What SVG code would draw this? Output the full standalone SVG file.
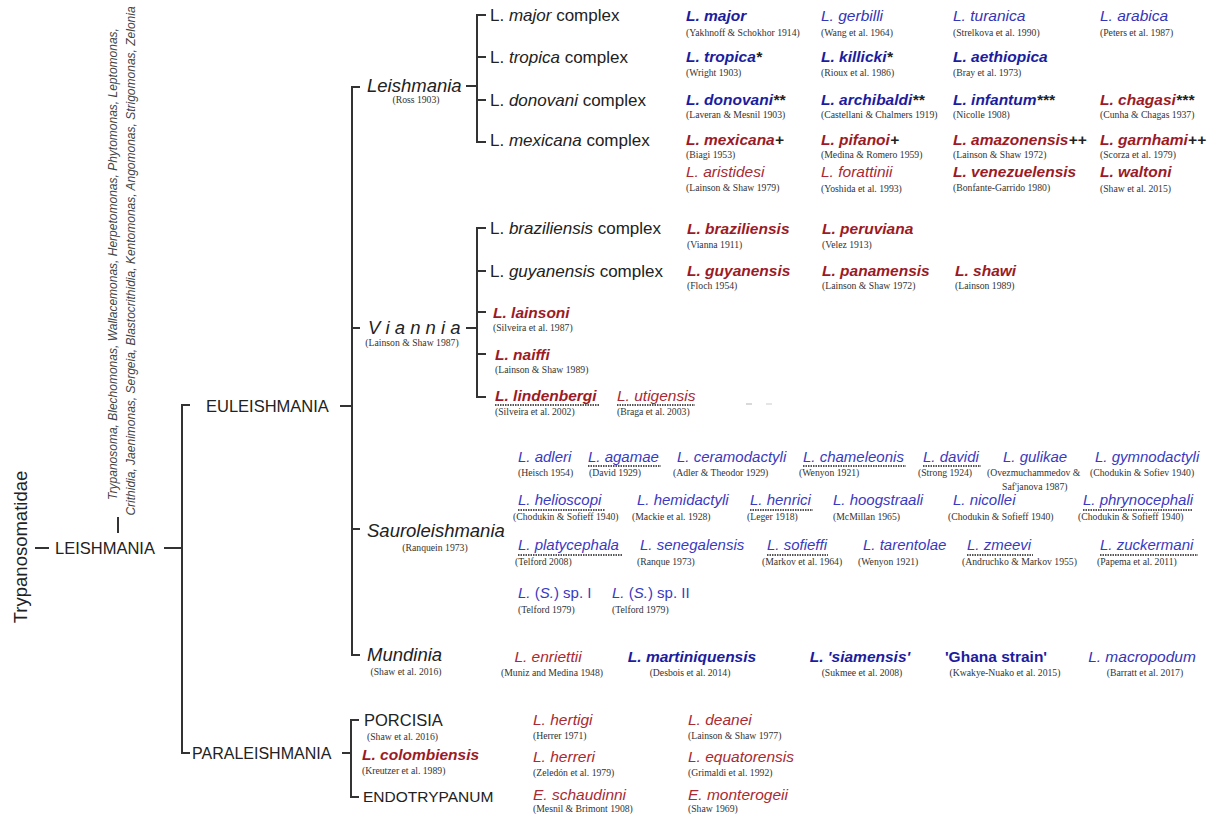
<svg xmlns="http://www.w3.org/2000/svg" width="1220" height="814" viewBox="0 0 1220 814">
<style>
text{font-family:"Liberation Sans",Arial,sans-serif}
.ln{stroke:#333;stroke-width:2;fill:none}
.ul{stroke:#555;stroke-width:2;stroke-dasharray:1.5 1;fill:none}
.cap{font-size:16.5px;fill:#222}
.sg{font-size:18.5px;font-style:italic;fill:#222}
.cx{font-size:17px;fill:#222}
.it{font-style:italic}
.gen{font-size:12px;font-style:italic;fill:#444}
.cit{font-family:"Liberation Serif","Times New Roman",serif;font-size:9.7px;fill:#333}
.bb{font-size:15.5px;font-style:italic;font-weight:bold;fill:#1c1c9e}
.nb{font-size:15.5px;font-style:italic;fill:#3535b8}
.br{font-size:15.5px;font-style:italic;font-weight:bold;fill:#9c1a26}
.nr{font-size:15.5px;font-style:italic;fill:#a82a34}
.sb{font-size:15px;font-style:italic;fill:#3a3ac0}
.mk{fill:#222}
.up{font-style:normal}
</style>
<rect width="1220" height="814" fill="#fff"/>

<g id="connectors">
  <line class="ln" x1="35" y1="548" x2="49" y2="548"/>
  <line class="ln" x1="118" y1="517" x2="118" y2="533"/>
  <line class="ln" x1="164" y1="548" x2="182" y2="548"/>
  <polyline class="ln" points="190,405 182,405 182,753 190,753"/>
  <line class="ln" x1="340" y1="406" x2="352" y2="406"/>
  <polyline class="ln" points="360,87 352,87 352,655 360,655"/>
  <line class="ln" x1="352" y1="328" x2="360" y2="328"/>
  <line class="ln" x1="352" y1="529" x2="360" y2="529"/>
  <line class="ln" x1="466" y1="86" x2="477" y2="86"/>
  <polyline class="ln" points="486,15 477,15 477,142 486,142"/>
  <line class="ln" x1="477" y1="57" x2="486" y2="57"/>
  <line class="ln" x1="477" y1="100" x2="486" y2="100"/>
  <line class="ln" x1="466" y1="328" x2="477" y2="328"/>
  <polyline class="ln" points="486,228 477,228 477,397 486,397"/>
  <line class="ln" x1="477" y1="271" x2="486" y2="271"/>
  <line class="ln" x1="477" y1="312" x2="486" y2="312"/>
  <line class="ln" x1="477" y1="354" x2="486" y2="354"/>
  <line class="ln" x1="342" y1="753" x2="351" y2="753"/>
  <polyline class="ln" points="359,720 351,720 351,797 359,797"/>
  <line x1="746" y1="404" x2="752" y2="404" stroke="#ccc" stroke-width="1.5"/>
  <line x1="766" y1="404" x2="772" y2="404" stroke="#ddd" stroke-width="1.5"/>
</g>

<g id="n-trypanosomatidae"><text transform="translate(27,547) rotate(-90)" text-anchor="middle" font-size="18.5" fill="#222">Trypanosomatidae</text></g>
<g id="n-other-genera">
  <text class="gen" transform="translate(117,264) rotate(-90)" text-anchor="middle">Trypanosoma, Blechomonas, Wallacemonas, Herpetomonas, Phytomonas, Leptomonas,</text>
  <text class="gen" transform="translate(135,261) rotate(-90)" text-anchor="middle">Crithidia, Jaenimonas, Sergeia, Blastocrithidia, Kentomonas, Angomonas, Strigomonas, Zelonia</text>
</g>
<g id="n-leishmania-genus"><text class="cap" x="55" y="554" font-size="17">LEISHMANIA</text></g>
<g id="n-euleishmania"><text class="cap" x="206" y="412">EULEISHMANIA</text></g>
<g id="n-paraleishmania"><text class="cap" x="192" y="759" style="font-size:16px">PARALEISHMANIA</text></g>

<g id="n-subg-leishmania"><text class="sg" x="367" y="92">Leishmania</text><text class="cit" x="416" y="103" text-anchor="middle">(Ross 1903)</text></g>
<g id="n-viannia"><text class="sg" x="368" y="334">V i a n n i a</text><text class="cit" x="412" y="346" text-anchor="middle">(Lainson &amp; Shaw 1987)</text></g>
<g id="n-sauroleishmania"><text class="sg" x="367" y="537">Sauroleishmania</text><text class="cit" x="435" y="551" text-anchor="middle">(Ranquein 1973)</text></g>
<g id="n-mundinia"><text class="sg" x="367" y="661">Mundinia</text><text class="cit" x="406" y="675" text-anchor="middle">(Shaw et al. 2016)</text></g>

<g id="n-porcisia"><text class="cap" x="364" y="726">PORCISIA</text><text class="cit" x="367" y="740">(Shaw et al. 2016)</text></g>
<g id="n-colombiensis"><text class="br" x="362" y="760">L. colombiensis</text><text class="cit" x="362" y="774">(Kreutzer et al. 1989)</text></g>
<g id="n-endotrypanum"><text class="cap" x="363" y="802" style="font-size:15.5px">ENDOTRYPANUM</text></g>

<!-- complexes -->
<g id="cx-major"><text class="cx" x="490" y="21">L. <tspan class="it">major</tspan> complex</text></g>
<g id="cx-tropica"><text class="cx" x="490" y="63">L. <tspan class="it">tropica</tspan> complex</text></g>
<g id="cx-donovani"><text class="cx" x="490" y="106">L. <tspan class="it">donovani</tspan> complex</text></g>
<g id="cx-mexicana"><text class="cx" x="490" y="146">L. <tspan class="it">mexicana</tspan> complex</text></g>
<g id="cx-braziliensis"><text class="cx" x="490" y="234">L. <tspan class="it">braziliensis</tspan> complex</text></g>
<g id="cx-guyanensis"><text class="cx" x="490" y="277">L. <tspan class="it">guyanensis</tspan> complex</text></g>

<!-- Leishmania subgenus species -->
<g id="s-major"><text class="bb" x="686" y="21">L. major</text><text class="cit" x="686" y="36">(Yakhnoff &amp; Schokhor 1914)</text></g>
<g id="s-gerbilli"><text class="nb" x="821" y="21">L. gerbilli</text><text class="cit" x="821" y="36">(Wang et al. 1964)</text></g>
<g id="s-turanica"><text class="nb" x="953" y="21">L. turanica</text><text class="cit" x="953" y="36">(Strelkova et al. 1990)</text></g>
<g id="s-arabica"><text class="nb" x="1100" y="21">L. arabica</text><text class="cit" x="1100" y="36">(Peters et al. 1987)</text></g>

<g id="s-tropica"><text class="bb" x="686" y="62">L. tropica<tspan class="mk">*</tspan></text><text class="cit" x="686" y="76">(Wright 1903)</text></g>
<g id="s-killicki"><text class="bb" x="821" y="62">L. killicki<tspan class="mk">*</tspan></text><text class="cit" x="821" y="76">(Rioux et al. 1986)</text></g>
<g id="s-aethiopica"><text class="bb" x="953" y="62">L. aethiopica</text><text class="cit" x="953" y="76">(Bray et al. 1973)</text></g>

<g id="s-donovani"><text class="bb" x="686" y="105">L. donovani<tspan class="mk">**</tspan></text><text class="cit" x="686" y="118">(Laveran &amp; Mesnil 1903)</text></g>
<g id="s-archibaldi"><text class="bb" x="821" y="105">L. archibaldi<tspan class="mk">**</tspan></text><text class="cit" x="821" y="118">(Castellani &amp; Chalmers 1919)</text></g>
<g id="s-infantum"><text class="bb" x="953" y="105">L. infantum<tspan class="mk">***</tspan></text><text class="cit" x="953" y="118">(Nicolle 1908)</text></g>
<g id="s-chagasi"><text class="br" x="1100" y="105">L. chagasi<tspan class="mk">***</tspan></text><text class="cit" x="1100" y="118">(Cunha &amp; Chagas 1937)</text></g>

<g id="s-mexicana"><text class="br" x="686" y="145">L. mexicana<tspan class="mk">+</tspan></text><text class="cit" x="686" y="158">(Biagi 1953)</text></g>
<g id="s-pifanoi"><text class="br" x="821" y="145">L. pifanoi<tspan class="mk">+</tspan></text><text class="cit" x="821" y="158">(Medina &amp; Romero 1959)</text></g>
<g id="s-amazonensis"><text class="br" x="953" y="145">L. amazonensis<tspan class="mk">++</tspan></text><text class="cit" x="953" y="158">(Lainson &amp; Shaw 1972)</text></g>
<g id="s-garnhami"><text class="br" x="1100" y="145">L. garnhami<tspan class="mk">++</tspan></text><text class="cit" x="1100" y="158">(Scorza et al. 1979)</text></g>

<g id="s-aristidesi"><text class="nr" x="686" y="177">L. aristidesi</text><text class="cit" x="686" y="191">(Lainson &amp; Shaw 1979)</text></g>
<g id="s-forattinii"><text class="nr" x="821" y="177">L. forattinii</text><text class="cit" x="821" y="192">(Yoshida et al. 1993)</text></g>
<g id="s-venezuelensis"><text class="br" x="953" y="177">L. venezuelensis</text><text class="cit" x="953" y="191">(Bonfante-Garrido 1980)</text></g>
<g id="s-waltoni"><text class="br" x="1100" y="177">L. waltoni</text><text class="cit" x="1100" y="192">(Shaw et al. 2015)</text></g>

<!-- Viannia species -->
<g id="s-braziliensis"><text class="br" x="687" y="234">L. braziliensis</text><text class="cit" x="687" y="248">(Vianna 1911)</text></g>
<g id="s-peruviana"><text class="br" x="822" y="234">L. peruviana</text><text class="cit" x="822" y="248">(Velez 1913)</text></g>
<g id="s-guyanensis"><text class="br" x="687" y="276">L. guyanensis</text><text class="cit" x="687" y="289">(Floch 1954)</text></g>
<g id="s-panamensis"><text class="br" x="822" y="276">L. panamensis</text><text class="cit" x="822" y="289">(Lainson &amp; Shaw 1972)</text></g>
<g id="s-shawi"><text class="br" x="955" y="276">L. shawi</text><text class="cit" x="955" y="289">(Lainson 1989)</text></g>
<g id="s-lainsoni"><text class="br" x="493" y="318">L. lainsoni</text><text class="cit" x="493" y="331">(Silveira et al. 1987)</text></g>
<g id="s-naiffi"><text class="br" x="495" y="360">L. naiffi</text><text class="cit" x="495" y="373">(Lainson &amp; Shaw 1989)</text></g>
<g id="s-lindenbergi"><text class="br" x="495" y="401">L. lindenbergi</text><line class="ul" x1="495" y1="405" x2="600" y2="405"/><text class="cit" x="495" y="415">(Silveira et al. 2002)</text></g>
<g id="s-utigensis"><text class="nr" x="617" y="401">L. utigensis</text><line class="ul" x1="617" y1="405" x2="695" y2="405"/><text class="cit" x="617" y="415">(Braga et al. 2003)</text></g>

<!-- Sauroleishmania species -->
<g id="s-adleri"><text class="sb" x="518" y="462">L. adleri</text><text class="cit" x="518" y="476">(Heisch 1954)</text></g>
<g id="s-agamae"><text class="sb" x="588" y="462">L. agamae</text><line class="ul" x1="588" y1="466" x2="661" y2="466"/><text class="cit" x="589" y="476">(David 1929)</text></g>
<g id="s-ceramodactyli"><text class="sb" x="677" y="462">L. ceramodactyli</text><text class="cit" x="673" y="476">(Adler &amp; Theodor 1929)</text></g>
<g id="s-chameleonis"><text class="sb" x="803" y="462">L. chameleonis</text><line class="ul" x1="803" y1="466" x2="906" y2="466"/><text class="cit" x="799" y="476">(Wenyon 1921)</text></g>
<g id="s-davidi"><text class="sb" x="923" y="462">L. davidi</text><line class="ul" x1="923" y1="466" x2="981" y2="466"/><text class="cit" x="918" y="476">(Strong 1924)</text></g>
<g id="s-gulikae"><text class="sb" x="1003" y="462">L. gulikae</text><text class="cit" x="987" y="476">(Ovezmuchammedov &amp;</text><text class="cit" x="1002" y="490">Saf'janova 1987)</text></g>
<g id="s-gymnodactyli"><text class="sb" x="1095" y="462">L. gymnodactyli</text><text class="cit" x="1090" y="476">(Chodukin &amp; Sofiev 1940)</text></g>

<g id="s-helioscopi"><text class="sb" x="518" y="505">L. helioscopi</text><line class="ul" x1="518" y1="510" x2="605" y2="510"/><text class="cit" x="513" y="520">(Chodukin &amp; Sofieff 1940)</text></g>
<g id="s-hemidactyli"><text class="sb" x="637" y="505">L. hemidactyli</text><text class="cit" x="632" y="520">(Mackie et al. 1928)</text></g>
<g id="s-henrici"><text class="sb" x="750" y="505">L. henrici</text><line class="ul" x1="750" y1="510" x2="813" y2="510"/><text class="cit" x="747" y="520">(Leger 1918)</text></g>
<g id="s-hoogstraali"><text class="sb" x="833" y="505">L. hoogstraali</text><text class="cit" x="833" y="520">(McMillan 1965)</text></g>
<g id="s-nicollei"><text class="sb" x="953" y="505">L. nicollei</text><text class="cit" x="948" y="520">(Chodukin &amp; Sofieff 1940)</text></g>
<g id="s-phrynocephali"><text class="sb" x="1083" y="505">L. phrynocephali</text><line class="ul" x1="1083" y1="510" x2="1192" y2="510"/><text class="cit" x="1078" y="520">(Chodukin &amp; Sofieff 1940)</text></g>

<g id="s-platycephala"><text class="sb" x="518" y="550">L. platycephala</text><line class="ul" x1="518" y1="555" x2="623" y2="555"/><text class="cit" x="515" y="565">(Telford 2008)</text></g>
<g id="s-senegalensis"><text class="sb" x="640" y="550">L. senegalensis</text><text class="cit" x="637" y="565">(Ranque 1973)</text></g>
<g id="s-sofieffi"><text class="sb" x="767" y="550">L. sofieffi</text><line class="ul" x1="767" y1="555" x2="828" y2="555"/><text class="cit" x="762" y="565">(Markov et al. 1964)</text></g>
<g id="s-tarentolae"><text class="sb" x="863" y="550">L. tarentolae</text><text class="cit" x="858" y="565">(Wenyon 1921)</text></g>
<g id="s-zmeevi"><text class="sb" x="967" y="550">L. zmeevi</text><line class="ul" x1="967" y1="555" x2="1033" y2="555"/><text class="cit" x="962" y="565">(Andruchko &amp; Markov 1955)</text></g>
<g id="s-zuckermani"><text class="sb" x="1100" y="550">L. zuckermani</text><line class="ul" x1="1100" y1="555" x2="1198" y2="555"/><text class="cit" x="1097" y="565">(Papema et al. 2011)</text></g>

<g id="s-sp1"><text class="sb" x="518" y="598">L. <tspan class="up">(</tspan>S.<tspan class="up">) sp. I</tspan></text><text class="cit" x="518" y="613">(Telford 1979)</text></g>
<g id="s-sp2"><text class="sb" x="612" y="598">L. <tspan class="up">(</tspan>S.<tspan class="up">) sp. II</tspan></text><text class="cit" x="612" y="613">(Telford 1979)</text></g>

<!-- Mundinia species -->
<g id="s-enriettii"><text class="nr" x="548" y="662" text-anchor="middle">L. enriettii</text><text class="cit" x="552" y="676" text-anchor="middle">(Muniz and Medina 1948)</text></g>
<g id="s-martiniquensis"><text class="bb" x="692" y="662" text-anchor="middle">L. martiniquensis</text><text class="cit" x="690" y="676" text-anchor="middle">(Desbois et al. 2014)</text></g>
<g id="s-siamensis"><text class="bb" x="860" y="662" text-anchor="middle">L. 'siamensis'</text><text class="cit" x="862" y="676" text-anchor="middle">(Sukmee et al. 2008)</text></g>
<g id="s-ghana"><text x="996" y="662" text-anchor="middle" font-size="15.5" font-weight="bold" fill="#1c1c9e">'Ghana strain'</text><text class="cit" x="1005" y="676" text-anchor="middle">(Kwakye-Nuako et al. 2015)</text></g>
<g id="s-macropodum"><text class="nb" x="1142" y="662" text-anchor="middle">L. macropodum</text><text class="cit" x="1145" y="676" text-anchor="middle">(Barratt et al. 2017)</text></g>

<!-- Paraleishmania species -->
<g id="s-hertigi"><text class="nr" x="533" y="725">L. hertigi</text><text class="cit" x="533" y="739">(Herrer 1971)</text></g>
<g id="s-herreri"><text class="nr" x="533" y="762">L. herreri</text><text class="cit" x="533" y="776">(Zeledón et al. 1979)</text></g>
<g id="s-schaudinni"><text class="nr" x="533" y="800">E. schaudinni</text><text class="cit" x="533" y="812">(Mesnil &amp; Brimont 1908)</text></g>
<g id="s-deanei"><text class="nr" x="688" y="725">L. deanei</text><text class="cit" x="688" y="739">(Lainson &amp; Shaw 1977)</text></g>
<g id="s-equatorensis"><text class="nr" x="688" y="762">L. equatorensis</text><text class="cit" x="688" y="776">(Grimaldi et al. 1992)</text></g>
<g id="s-monterogeii"><text class="nr" x="688" y="800">E. monterogeii</text><text class="cit" x="688" y="812">(Shaw 1969)</text></g>
</svg>
